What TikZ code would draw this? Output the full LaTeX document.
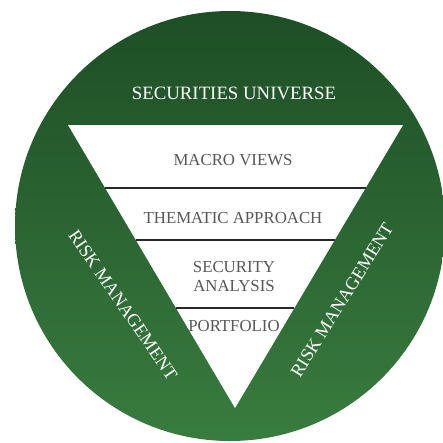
\documentclass[tikz,border=0pt]{standalone}
\usepackage{fontspec}
\setmainfont{Liberation Serif}
\usetikzlibrary{calc}

\definecolor{darkgreen}{RGB}{30,78,38}
\definecolor{lightgreen}{RGB}{57,124,63}
\definecolor{textgray}{RGB}{88,88,88}
\definecolor{linegray}{RGB}{40,40,40}

\tikzset{
  outertext/.style={text=white,font=\fontsize{18.8}{20}\selectfont},
  innertext/.style={text=textgray,font=\fontsize{16.8}{19}\selectfont,align=center},
  sidetext/.style={text=white,font=\fontsize{18.2}{20}\selectfont},
  layerline/.style={linegray,line width=1.8pt}
}

\begin{document}
\begin{tikzpicture}[x=1pt,y=-1pt]
  \useasboundingbox (0,0) rectangle (443,442);

  % green disc
  \shade[top color=darkgreen,bottom color=lightgreen] (230,226) circle (215);

  % funnel
  \coordinate (tl) at (68,125);
  \coordinate (tr) at (403,125);
  \coordinate (bt) at (235,408);
  \fill[white] (tl) -- (tr) -- (bt) -- cycle;

  \draw[layerline] ($(tl)!0.2226!(bt)$) -- ($(tr)!0.2226!(bt)$);
  \draw[layerline] ($(tl)!0.4064!(bt)$) -- ($(tr)!0.4064!(bt)$);
  \draw[layerline] ($(tl)!0.6466!(bt)$) -- ($(tr)!0.6466!(bt)$);

  \node[outertext] (universe) at (234,93) {SECURITIES UNIVERSE};
  \node[innertext] (macro) at (233,160) {MACRO VIEWS};
  \node[innertext] (thematic) at (233,218) {THEMATIC APPROACH};
  \node[innertext] (security) at (234,277) {SECURITY\\ANALYSIS};
  \node[innertext] (portfolio) at (234,326) {PORTFOLIO};

  \node[sidetext,rotate=-55.5] (riskleft) at (123,305) {RISK MANAGEMENT};
  \node[sidetext,rotate=58] (riskright) at (342,300) {RISK MANAGEMENT};
\end{tikzpicture}
\end{document}
